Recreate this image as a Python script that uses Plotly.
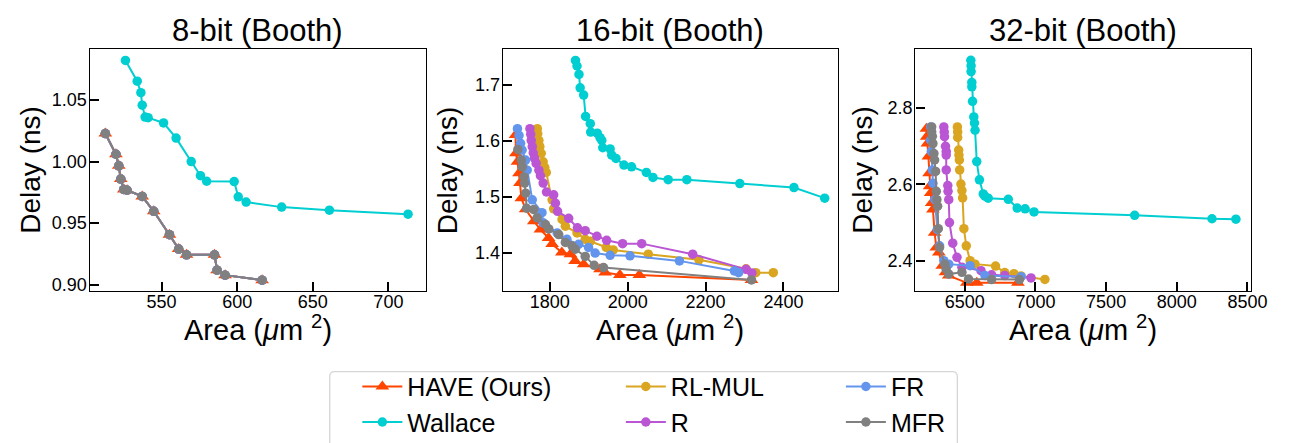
import plotly.graph_objects as go

# ---------------- data ----------------
# 8-bit (Booth)
have8_x = [512.8, 519.8, 521.7, 523.0, 525.0, 527.2, 537.2, 544.8, 555.2, 561.3, 566.5, 585.0, 586.7, 592.0, 616.5]
have8_y = [1.0227, 1.0059, 0.9965, 0.9858, 0.9773, 0.9767, 0.9717, 0.9596, 0.9406, 0.9290, 0.9243, 0.9243, 0.9118, 0.9078, 0.9037]
wal8_x = [526.1, 533.9, 536.3, 537.2, 539.1, 541.1, 551.3, 559.6, 569.6, 575.7, 579.8, 598.0, 600.7, 605.9, 629.4, 661.0, 713.0]
wal8_y = [1.082, 1.0652, 1.0559, 1.0457, 1.0361, 1.0356, 1.0313, 1.019, 1.000, 0.9885, 0.984, 0.9837, 0.9714, 0.9671, 0.963, 0.9605, 0.9573]
rl8_x, rl8_y = have8_x, have8_y
r8_x, r8_y = have8_x, have8_y
fr8_x, fr8_y = have8_x, have8_y
mfr8_x, mfr8_y = have8_x, have8_y

# 16-bit (Booth)
have16_x = [1712, 1713, 1717, 1721, 1723.5, 1727, 1738, 1759, 1776, 1797, 1806, 1831, 1853, 1865, 1887, 1929, 1942, 1980, 2030, 2318]
have16_y = [1.611, 1.578, 1.563, 1.5425, 1.525, 1.498, 1.478, 1.457, 1.442, 1.427, 1.416, 1.401, 1.398, 1.386, 1.380, 1.371, 1.3655, 1.361, 1.361, 1.352]
wal16_x = [1866, 1870, 1875, 1878, 1887, 1892, 1904, 1905, 1922, 1929, 1933.5, 1936, 1955, 1959, 1970, 1990.5, 2010, 2048, 2065, 2104, 2152, 2288, 2427, 2506]
wal16_y = [1.744, 1.734, 1.719, 1.695, 1.682, 1.644, 1.631, 1.616, 1.614, 1.606, 1.601, 1.588, 1.586, 1.575, 1.569, 1.557, 1.554, 1.544, 1.535, 1.531, 1.531, 1.524, 1.517, 1.498]
rl16_x = [1768, 1769, 1772, 1774.5, 1778, 1783, 1787, 1791, 1806, 1810, 1831.5, 1840, 1870, 1891, 1904, 1945, 1963, 2053, 2183, 2304, 2329, 2374]
rl16_y = [1.622, 1.613, 1.601, 1.590, 1.578, 1.563, 1.553, 1.544, 1.495, 1.479, 1.460, 1.448, 1.436, 1.4245, 1.421, 1.410, 1.4056, 1.398, 1.388, 1.372, 1.365, 1.365]
r16_x = [1749, 1751, 1752.4, 1755, 1757.5, 1761, 1765, 1772, 1776, 1783, 1791.5, 1810, 1814.5, 1820, 1848.5, 1871, 1891, 1921, 1946, 1987, 2036, 2167, 2304, 2319]
r16_y = [1.622, 1.612, 1.601, 1.590, 1.579, 1.569, 1.560, 1.548, 1.538, 1.525, 1.509, 1.504, 1.489, 1.4746, 1.462, 1.445, 1.440, 1.430, 1.4227, 1.4168, 1.4168, 1.398, 1.371, 1.3646]
fr16_x = [1717, 1721, 1725, 1729, 1738, 1742, 1755, 1780, 1783, 1819, 1844, 1874, 1899.5, 1916.5, 1955, 2006, 2133, 2274, 2285]
fr16_y = [1.622, 1.610, 1.596, 1.584, 1.566, 1.548, 1.495, 1.472, 1.454, 1.436, 1.4245, 1.4156, 1.410, 1.400, 1.396, 1.395, 1.386, 1.368, 1.365]
mfr16_x = [1718, 1727, 1729.4, 1733.7, 1735.4, 1738, 1740.5, 1759, 1767.5, 1789, 1797.5, 1823, 1840, 1857, 1865.5, 1891, 1914, 1938, 2318]
mfr16_y = [1.585, 1.566, 1.554, 1.536, 1.525, 1.507, 1.480, 1.4776, 1.463, 1.451, 1.443, 1.433, 1.419, 1.413, 1.407, 1.394, 1.378, 1.374, 1.352]

# 32-bit (Booth)
have32_x = [6229, 6231, 6236, 6243, 6248, 6252, 6259, 6266, 6275, 6287, 6299, 6317, 6341, 6364, 6387, 6515, 6585, 6876]
have32_y = [2.746, 2.725, 2.707, 2.673, 2.629, 2.595, 2.5775, 2.5515, 2.534, 2.4736, 2.4346, 2.4216, 2.387, 2.3697, 2.361, 2.342, 2.342, 2.342]
wal32_x = [6543, 6545, 6545, 6550, 6550, 6555, 6564, 6569, 6573, 6585, 6604, 6631, 6643, 6666, 6808, 6871, 6927, 6990, 7702, 8249, 8418]
wal32_y = [2.9255, 2.911, 2.896, 2.8675, 2.856, 2.818, 2.777, 2.761, 2.742, 2.66, 2.612, 2.575, 2.569, 2.564, 2.561, 2.538, 2.536, 2.528, 2.519, 2.510, 2.509]
rl32_x = [6448, 6450, 6450, 6457, 6459, 6462, 6464, 6473, 6480, 6485, 6494, 6511, 6538, 6573, 6718, 6783, 6848, 6898, 7067]
rl32_y = [2.7506, 2.7377, 2.723, 2.69, 2.677, 2.664, 2.638, 2.601, 2.584, 2.5645, 2.484, 2.439, 2.400, 2.391, 2.386, 2.369, 2.366, 2.360, 2.351]
r32_x = [6352, 6355, 6357, 6364, 6369, 6369, 6369, 6380, 6382, 6387, 6392, 6415, 6445, 6480, 6615, 6690, 6783, 6969]
r32_y = [2.7506, 2.7377, 2.725, 2.70, 2.686, 2.677, 2.638, 2.597, 2.582, 2.560, 2.50, 2.446, 2.409, 2.383, 2.374, 2.363, 2.361, 2.355]
fr32_x = [6259, 6259, 6264, 6271, 6275, 6289, 6306, 6322, 6352, 6387, 6538, 6643, 6899]
fr32_y = [2.7506, 2.716, 2.686, 2.638, 2.603, 2.560, 2.482, 2.439, 2.400, 2.391, 2.387, 2.361, 2.358]
mfr32_x = [6266, 6266, 6271, 6275, 6282, 6287, 6294, 6299, 6303, 6308, 6313, 6322, 6359, 6368, 6387, 6480, 6527, 6690, 6887]
mfr32_y = [2.7506, 2.7377, 2.726, 2.707, 2.681, 2.664, 2.634, 2.582, 2.560, 2.543, 2.484, 2.4346, 2.391, 2.378, 2.365, 2.3697, 2.352, 2.3506, 2.3506]

panel_titles = ["8-bit (Booth)", "16-bit (Booth)", "32-bit (Booth)"]
series_names = ["HAVE (Ours)", "Wallace", "RL-MUL", "R", "FR", "MFR"]
series_colors = ["#FF4500", "#00CED1", "#DAA520", "#BA55D3", "#6495ED", "#808080"]

panels = [
    [(have8_x, have8_y), (wal8_x, wal8_y), (rl8_x, rl8_y), (r8_x, r8_y), (fr8_x, fr8_y), (mfr8_x, mfr8_y)],
    [(have16_x, have16_y), (wal16_x, wal16_y), (rl16_x, rl16_y), (r16_x, r16_y), (fr16_x, fr16_y), (mfr16_x, mfr16_y)],
    [(have32_x, have32_y), (wal32_x, wal32_y), (rl32_x, rl32_y), (r32_x, r32_y), (fr32_x, fr32_y), (mfr32_x, mfr32_y)],
]

xticks = [[550, 600, 650, 700], [1800, 2000, 2200, 2400], [6500, 7000, 7500, 8000, 8500]]
yticks = [[0.90, 0.95, 1.00, 1.05], [1.4, 1.5, 1.6, 1.7], [2.4, 2.6, 2.8]]
ytick_text = [["0.90", "0.95", "1.00", "1.05"], ["1.4", "1.5", "1.6", "1.7"], ["2.4", "2.6", "2.8"]]
xranges = [[502.4, 724.7], [1679.6, 2540], [6151, 8523]]
yranges = [[0.8946, 1.0916], [1.3315, 1.765], [2.3195, 2.956]]

# ---------------- layout geometry ----------------
W, H = 1292, 443
FONT = "Liberation Sans, Arial, Helvetica, sans-serif"
px_left = [82.7, 501.5, 919.5]
px_right = [423.3, 841.0, 1259.3]
px_top, px_bottom = 41, 286
ydom = [1 - px_bottom / H, 1 - px_top / H]
legend_names = ["legend", "legend", "legend2", "legend2", "legend3", "legend3"]

fig = go.Figure()
for p, series in enumerate(panels):
    xa = "x" if p == 0 else f"x{p+1}"
    ya = "y" if p == 0 else f"y{p+1}"
    for s, (xs, ys) in enumerate(series):
        is_have = s == 0
        fig.add_trace(go.Scatter(
            x=xs, y=ys, mode="lines+markers", name=series_names[s],
            xaxis=xa, yaxis=ya,
            line=dict(color=series_colors[s], width=2),
            marker=dict(symbol="triangle-up" if is_have else "circle",
                        size=12 if is_have else 9.5, color=series_colors[s],
                        line=dict(width=0)),
            showlegend=(p == 0), legend=legend_names[s],
        ))

layout = dict(
    width=W, height=H, margin=dict(l=0, r=0, t=0, b=0),
    plot_bgcolor="white", paper_bgcolor="white",
    font=dict(family=FONT, color="black"),
)
for p in range(3):
    xk = "xaxis" if p == 0 else f"xaxis{p+1}"
    yk = "yaxis" if p == 0 else f"yaxis{p+1}"
    xa = "x" if p == 0 else f"x{p+1}"
    ya = "y" if p == 0 else f"y{p+1}"
    layout[xk] = dict(domain=[px_left[p] / W, px_right[p] / W], anchor=ya, range=xranges[p],
                      tickvals=xticks[p], ticks="inside", ticklen=9, tickwidth=1.5, tickcolor="black",
                      showline=True, mirror=True, linecolor="black", linewidth=1.3, showgrid=False,
                      zeroline=False, tickfont=dict(size=18, family=FONT), ticklabelstandoff=-6)
    layout[yk] = dict(domain=ydom, anchor=xa, range=yranges[p],
                      tickvals=yticks[p], ticktext=ytick_text[p], ticks="inside", ticklen=9, tickwidth=1.5,
                      tickcolor="black", showline=True, mirror=True, linecolor="black", linewidth=1.3,
                      showgrid=False, zeroline=False, tickfont=dict(size=18, family=FONT), ticklabelstandoff=-2)
fig.update_layout(**layout)

annots = []
ylab_x = [22, 445, 865]
for p in range(3):
    cx = (px_left[p] + px_right[p]) / 2 / W
    annots.append(dict(text=panel_titles[p], x=cx, y=1 - 23 / H, xref="paper", yref="paper",
                       showarrow=False, xanchor="center", yanchor="middle", font=dict(size=31, family=FONT)))
    annots.append(dict(text="Area (<i>μ</i>m <sup>2</sup>)", x=cx, y=1 - 323 / H, xref="paper", yref="paper",
                       showarrow=False, xanchor="center", yanchor="middle", font=dict(size=29, family=FONT)))
    annots.append(dict(text="Delay (ns)", x=ylab_x[p] / W, y=1 - 163.5 / H, xref="paper", yref="paper",
                       showarrow=False, xanchor="center", yanchor="middle", textangle=-90,
                       font=dict(size=28, family=FONT)))
fig.update_layout(annotations=annots)

leg_common = dict(orientation="v", yanchor="top", xanchor="left", bgcolor="rgba(0,0,0,0)",
                  font=dict(size=25, family=FONT), tracegroupgap=0, itemwidth=40)
fig.update_layout(
    legend=dict(x=354 / W, y=1 - 359 / H, **leg_common),
    legend2=dict(x=621 / W, y=1 - 359 / H, **leg_common),
    legend3=dict(x=844 / W, y=1 - 359 / H, **leg_common),
)

# rounded legend frame (extends below the figure bottom like the reference)
bx0, bx1, by0, by1, rr = 326, 962, 367, 470, 5
def fx(v):
    return v / W
def fy(v):
    return 1 - v / H
frame_path = (f"M {fx(bx0 + rr)},{fy(by0)} L {fx(bx1 - rr)},{fy(by0)} "
              f"Q {fx(bx1)},{fy(by0)} {fx(bx1)},{fy(by0 + rr)} L {fx(bx1)},{fy(by1)} "
              f"L {fx(bx0)},{fy(by1)} L {fx(bx0)},{fy(by0 + rr)} Q {fx(bx0)},{fy(by0)} {fx(bx0 + rr)},{fy(by0)} Z")
fig.add_shape(type="path", xref="paper", yref="paper", path=frame_path,
              line=dict(color="#d6d6d6", width=1.3), fillcolor="rgba(0,0,0,0)", layer="below")

fig.write_html("out.html")
